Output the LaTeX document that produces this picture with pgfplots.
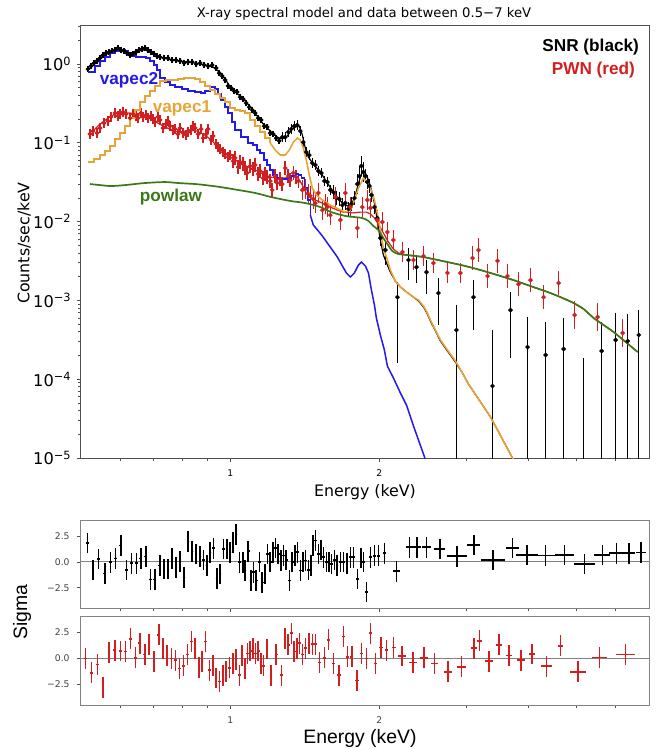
\documentclass[border=0pt]{standalone}
\usepackage{fontspec}
\setmainfont{DejaVu Sans}
\newfontfamily\lib{Liberation Sans}
\usepackage{pgfplots}
\usepackage{pgfplotstable}
\pgfplotsset{compat=1.18}
\definecolor{cblue}{RGB}{35,25,235}
\definecolor{corange}{RGB}{232,165,55}
\definecolor{cgreen}{RGB}{60,120,25}
\definecolor{cred}{RGB}{210,30,30}
\definecolor{cframe}{RGB}{80,80,80}
\definecolor{cgrid}{RGB}{130,130,130}

% ---------- models ----------
\pgfplotstableread{
E V
0.5165 0.792
0.5337 0.943
0.5462 1.092
0.5591 1.227
0.5722 1.379
0.5856 1.462
0.5994 1.505
0.6135 1.462
0.6220 1.301
0.6339 1.263
0.6456 1.227
0.6609 1.227
0.6764 1.191
0.6891 1.092
0.7020 0.971
0.7118 0.839
0.7219 0.664
0.7389 0.591
0.7563 0.542
0.7741 0.511
0.8000 0.482
0.8226 0.454
0.8500 0.441
0.8738 0.429
0.8902 0.454
0.9112 0.511
0.9326 0.482
0.9458 0.416
0.9590 0.349
0.9770 0.285
0.9907 0.239
1.0093 0.184
1.0235 0.145
1.0525 0.118
1.0874 0.0994
1.1130 0.0938
1.1337 0.0810
1.1497 0.0743
1.1713 0.0605
1.1878 0.0523
1.2045 0.0452
1.2214 0.0390
1.2444 0.0357
1.2618 0.0347
1.2856 0.0347
1.3037 0.0357
1.3281 0.0379
1.3531 0.0402
1.3723 0.0390
1.3916 0.0357
1.4111 0.0267
1.4311 0.0188
1.4510 0.0121
}\vapectwolow

\pgfplotstableread{
E V
1.4510 0.0121
1.4715 0.00906
1.5062 0.00760
1.5346 0.00657
1.5707 0.00535
1.6077 0.00436
1.6455 0.00355
1.6843 0.00273
1.7159 0.00223
1.7480 0.00198
1.7810 0.00223
1.8146 0.00281
1.8400 0.00307
1.8745 0.00273
1.9010 0.00223
1.9275 0.00136
1.9547 0.000874
1.9724 0.000598
2.0091 0.000364
2.0470 0.000235
2.0756 0.000147
2.1344 0.000104
2.2054 0.0000668
2.2680 0.0000471
2.3434 0.0000255
2.3985 0.0000169
2.4666 0.0000103
2.5120 0.0000068
}\vapectwohigh

\pgfplotstableread{
E V
0.5165 0.0571
0.5312 0.0623
0.5462 0.0700
0.5591 0.0787
0.5722 0.0911
0.5856 0.1117
0.5994 0.133
0.6135 0.163
0.6279 0.206
0.6426 0.261
0.6578 0.330
0.6733 0.393
0.6891 0.454
0.7053 0.526
0.7219 0.608
0.7424 0.627
0.7634 0.627
0.7849 0.645
0.8073 0.664
0.8303 0.664
0.8500 0.645
0.8700 0.591
0.8902 0.526
0.9112 0.468
0.9326 0.416
0.9546 0.370
0.9770 0.330
1.0 0.276
1.0235 0.261
1.0476 0.253
1.0723 0.239
1.0975 0.195
1.1233 0.163
1.1497 0.137
1.1768 0.115
1.2045 0.0994
}\vapeconelow

\pgfplotstableread{
E V
1.2045 0.0994
1.2328 0.0810
1.2618 0.0700
1.2916 0.0700
1.3159 0.0810
1.3407 0.102
1.3659 0.115
1.3851 0.109
1.4046 0.0859
1.4243 0.0605
1.4443 0.0390
1.4646 0.0267
1.4920 0.0218
1.5346 0.0188
1.5926 0.0162
1.6532 0.0145
1.7078 0.0132
1.7480 0.0140
1.7810 0.0188
1.8146 0.0267
1.8573 0.0357
1.8919 0.0318
1.9186 0.0267
1.9547 0.0188
1.9815 0.0129
2.0091 0.00782
2.0375 0.00462
2.0756 0.00326
2.1046 0.00243
2.1544 0.00176
2.2054 0.00148
2.2680 0.00128
2.3434 0.00110
2.3985 0.00101
2.4552 0.000849
2.5003 0.000692
2.5351 0.000564
2.5950 0.000421
2.6560 0.000314
2.7442 0.000235
2.8478 0.000170
2.9418 0.000120
3.0250 0.0000869
3.1118 0.0000668
3.2292 0.0000471
3.3516 0.0000331
3.4624 0.0000227
3.5768 0.0000155
3.7125 0.0000100
3.8171 0.0000075
}\vapeconehigh

\pgfplotstableread{
E V
0.5165 0.839
0.5337 1.030
0.5462 1.191
0.5591 1.301
0.5722 1.420
0.5856 1.505
0.5994 1.505
0.6135 1.462
0.6279 1.379
0.6426 1.420
0.6578 1.505
0.6733 1.505
0.6891 1.462
0.7053 1.339
0.7219 1.227
0.7492 1.157
0.7849 1.092
0.8226 1.060
0.8500 1.030
0.8902 0.971
0.9240 0.916
0.9458 0.815
0.9770 0.645
1.0 0.511
1.0235 0.441
1.0476 0.393
1.0723 0.339
1.0975 0.285
1.1337 0.219
1.1659 0.173
1.2045 0.141
1.2444 0.118
1.2737 0.112
1.3037 0.122
1.3281 0.145
1.3531 0.159
1.3787 0.163
1.3981 0.126
1.4177 0.0859
1.4377 0.0660
1.4715 0.0538
1.5202 0.0426
1.5707 0.0309
1.6301 0.0218
1.6843 0.0172
1.7238 0.0158
1.7561 0.0162
1.7892 0.0218
1.8230 0.0337
1.8480 0.0426
1.8745 0.0414
1.9010 0.0337
1.9275 0.0252
1.9547 0.0172
1.9815 0.0105
2.0091 0.00584
2.0375 0.00377
2.0756 0.00281
2.1046 0.00229
2.1544 0.00176
2.2054 0.00148
2.2680 0.00128
2.3434 0.00110
2.3985 0.000983
2.4552 0.000825
2.5003 0.000672
2.5351 0.000548
2.5950 0.000409
2.6560 0.000305
2.7442 0.000228
2.8478 0.000165
2.9418 0.000120
3.0250 0.0000869
3.1118 0.0000668
3.2292 0.0000471
3.3516 0.0000331
3.4624 0.0000227
3.5768 0.0000155
3.7125 0.0000100
3.8171 0.0000075
}\snrmodel

\pgfplotstableread{
E V
0.5214 0.0300
0.5462 0.0291
0.5749 0.0283
0.6135 0.0291
0.6733 0.0309
0.7389 0.0318
0.7849 0.0309
0.8500 0.0300
0.8902 0.0291
0.9546 0.0275
1.0380 0.0252
1.1233 0.0231
1.2101 0.0205
1.3220 0.0183
1.4177 0.0172
1.5202 0.0153
1.5999 0.0132
1.7078 0.0118
1.7892 0.0114
1.8480 0.0111
1.9010 0.0102
1.9457 0.00879
1.9907 0.00782
2.0375 0.00619
2.0756 0.00520
2.1245 0.00423
2.1851 0.00388
2.2786 0.00377
2.4552 0.00355
2.7442 0.00307
2.9833 0.00273
3.1993 0.00243
3.5123 0.00204
3.7297 0.00181
4.0371 0.00152
4.3694 0.00128
4.6416 0.00110
4.9307 0.000927
5.1654 0.000778
5.4117 0.000598
5.6693 0.000487
5.9384 0.000397
6.2790 0.000297
6.6424 0.000221
}\powlaw

\pgfplotstableread{
E V
0.5165 0.129
0.5337 0.150
0.5462 0.173
0.5669 0.206
0.5856 0.232
0.6050 0.239
0.6279 0.239
0.6578 0.225
0.6891 0.206
0.7151 0.178
0.7389 0.159
0.7634 0.145
0.7849 0.137
0.8111 0.141
0.8340 0.145
0.8577 0.141
0.8738 0.133
0.8944 0.122
0.9155 0.109
0.9369 0.0938
0.9590 0.0810
0.9907 0.0680
1.0235 0.0605
1.0573 0.0538
1.0874 0.0493
1.1233 0.0452
1.1659 0.0402
1.2045 0.0368
1.2444 0.0357
1.2856 0.0357
1.3220 0.0368
1.3468 0.0379
1.3723 0.0357
1.3981 0.0291
1.4243 0.0231
1.4577 0.0199
1.4992 0.0183
1.5489 0.0167
1.5926 0.0153
1.6455 0.0140
1.6921 0.0132
1.7728 0.0129
1.8314 0.0132
1.8829 0.0132
1.9186 0.0125
1.9547 0.0111
1.9907 0.00932
2.0375 0.00717
2.0853 0.00551
2.1344 0.00449
2.1851 0.00400
2.2576 0.00377
2.4552 0.00355
2.7442 0.00307
2.9833 0.00273
3.1993 0.00243
3.5123 0.00204
3.7297 0.00181
4.0371 0.00152
4.3694 0.00128
4.6416 0.00110
4.9307 0.000927
5.1654 0.000778
5.4117 0.000598
5.6693 0.000487
5.9384 0.000397
6.2790 0.000297
6.6424 0.000221
}\pwnmodel

% ---------- data (relative errors up / down) ----------
\pgfplotstableread{
E V up dn
0.5165 0.864 0.09 0.08
0.5239 0.943 0.09 0.08
0.5312 1.030 0.09 0.08
0.5387 1.092 0.09 0.08
0.5462 1.191 0.09 0.08
0.5538 1.301 0.09 0.08
0.5617 1.379 0.09 0.08
0.5695 1.420 0.09 0.08
0.5775 1.462 0.09 0.08
0.5856 1.505 0.09 0.08
0.5937 1.596 0.09 0.08
0.6022 1.505 0.09 0.08
0.6107 1.462 0.09 0.08
0.6192 1.379 0.09 0.08
0.6279 1.301 0.09 0.08
0.6366 1.339 0.09 0.08
0.6456 1.420 0.09 0.08
0.6547 1.505 0.09 0.08
0.6639 1.550 0.09 0.08
0.6733 1.596 0.09 0.08
0.6826 1.505 0.09 0.08
0.6923 1.420 0.09 0.08
0.7020 1.339 0.09 0.08
0.7118 1.263 0.09 0.08
0.7219 1.227 0.09 0.08
0.7355 1.191 0.09 0.08
0.7492 1.191 0.09 0.08
0.7634 1.124 0.09 0.08
0.7777 1.124 0.09 0.08
0.7924 1.092 0.09 0.08
0.8073 1.030 0.09 0.08
0.8226 1.060 0.09 0.08
0.8381 1.060 0.09 0.08
0.8540 1.000 0.09 0.08
0.8700 1.030 0.09 0.08
0.8861 0.971 0.09 0.08
0.9027 0.943 0.09 0.08
0.9197 0.971 0.09 0.08
0.9369 0.890 0.09 0.08
0.9502 0.769 0.09 0.08
0.9635 0.704 0.09 0.08
0.9770 0.627 0.09 0.08
0.9907 0.526 0.09 0.08
1.0047 0.496 0.09 0.08
1.0188 0.454 0.09 0.08
1.0331 0.441 0.09 0.08
1.0476 0.381 0.09 0.08
1.0624 0.359 0.09 0.08
1.0773 0.320 0.09 0.08
1.0924 0.285 0.09 0.08
1.1078 0.261 0.09 0.08
1.1233 0.239 0.09 0.08
1.1391 0.206 0.09 0.08
1.1551 0.195 0.09 0.08
1.1713 0.163 0.09 0.08
1.1878 0.159 0.09 0.08
1.2045 0.133 0.09 0.08
1.2214 0.129 0.09 0.08
1.2385 0.115 0.09 0.08
1.2559 0.106 0.09 0.08
1.2737 0.118 0.157 0.136
1.2916 0.118 0.157 0.136
1.3098 0.137 0.157 0.136
1.3281 0.150 0.157 0.136
1.3468 0.163 0.157 0.136
1.3659 0.168 0.157 0.136
1.3851 0.141 0.157 0.136
1.4046 0.102 0.157 0.136
1.4243 0.0764 0.157 0.136
1.4443 0.0700 0.157 0.136
1.4646 0.0554 0.157 0.136
1.4852 0.0523 0.157 0.136
1.5062 0.0439 0.157 0.136
1.5273 0.0414 0.157 0.136
1.5489 0.0327 0.157 0.136
1.5707 0.0318 0.157 0.136
1.5926 0.0252 0.157 0.136
1.6151 0.0237 0.227 0.185
1.6377 0.0199 0.227 0.185
1.6608 0.0194 0.227 0.185
1.6843 0.0162 0.227 0.185
1.7078 0.0172 0.227 0.185
1.7320 0.0145 0.227 0.185
1.7561 0.0167 0.227 0.185
1.7810 0.0199 0.227 0.185
1.8059 0.0300 0.339 0.253
1.8230 0.0379 0.339 0.253
1.8400 0.0508 0.339 0.253
1.8573 0.0426 0.339 0.253
1.8745 0.0379 0.227 0.185
1.8919 0.0318 0.227 0.185
1.9097 0.0283 0.227 0.185
1.9275 0.0218 0.227 0.185
1.9547 0.0153 0.227 0.185
1.9815 0.0111 0.227 0.185
2.0091 0.00619 0.263 0.208
2.0563 0.00436 0.263 0.355
2.1746 0.00110 0.55 0.855
2.2895 0.00326 0.42 0.442
2.3765 0.00265 0.42 0.373
2.4894 0.00229 0.42 0.474
2.6315 0.00124 0.55 0.607
2.8612 0.000421 1.075 0.99
3.0974 0.00110 0.643 0.619
3.3830 0.0000820 4.14 0.99
3.6781 0.000755 0.692 0.754
3.9811 0.000256 1.40 0.99
4.3291 0.000203 1.62 0.99
4.7068 0.000242 1.47 0.99
5.166 0.00000705 25.4 0.5
5.6170 0.000228 1.33 0.99
5.9940 0.000314 1.20 0.99
6.3391 0.000305 1.20 0.99
6.6730 0.000364 1.075 0.99
}\snrdata

\pgfplotstableread{
E V up dn
0.5214 0.129 0.157 0.136
0.5287 0.141 0.157 0.136
0.5387 0.133 0.157 0.136
0.5462 0.154 0.157 0.136
0.5565 0.178 0.157 0.136
0.5669 0.189 0.157 0.136
0.5749 0.213 0.157 0.136
0.5856 0.239 0.157 0.136
0.5937 0.219 0.157 0.136
0.5994 0.232 0.157 0.136
0.6077 0.246 0.157 0.136
0.6164 0.232 0.157 0.136
0.6279 0.206 0.157 0.136
0.6366 0.232 0.157 0.136
0.6456 0.219 0.157 0.136
0.6516 0.206 0.157 0.136
0.6609 0.239 0.157 0.136
0.6670 0.213 0.157 0.136
0.6764 0.225 0.157 0.136
0.6826 0.206 0.157 0.136
0.6923 0.219 0.157 0.136
0.6987 0.200 0.157 0.136
0.7053 0.184 0.157 0.136
0.7151 0.213 0.157 0.136
0.7219 0.195 0.157 0.136
0.7319 0.154 0.157 0.136
0.7423 0.173 0.157 0.136
0.7492 0.189 0.157 0.136
0.7563 0.163 0.157 0.136
0.7668 0.145 0.157 0.136
0.7741 0.150 0.157 0.136
0.7849 0.129 0.157 0.136
0.7924 0.154 0.157 0.136
0.8036 0.133 0.157 0.136
0.8149 0.126 0.157 0.136
0.8226 0.137 0.157 0.136
0.8340 0.145 0.157 0.136
0.8420 0.163 0.157 0.136
0.8500 0.154 0.157 0.136
0.8619 0.129 0.157 0.136
0.8738 0.150 0.157 0.136
0.8822 0.115 0.157 0.136
0.8944 0.129 0.157 0.136
0.9027 0.150 0.157 0.136
0.9155 0.109 0.157 0.136
0.9240 0.122 0.157 0.136
0.9369 0.0965 0.157 0.136
0.9458 0.0885 0.157 0.136
0.9546 0.0834 0.157 0.136
0.9680 0.0764 0.157 0.136
0.9770 0.0721 0.157 0.136
0.9907 0.0660 0.157 0.136
1.0 0.0700 0.157 0.136
1.0140 0.0587 0.227 0.185
1.0235 0.0641 0.227 0.185
1.0380 0.0493 0.227 0.185
1.0476 0.0571 0.227 0.185
1.0624 0.0538 0.227 0.185
1.0723 0.0479 0.227 0.185
1.0823 0.0414 0.227 0.185
1.0975 0.0508 0.227 0.185
1.1130 0.0465 0.227 0.185
1.1233 0.0523 0.227 0.185
1.1391 0.0402 0.227 0.185
1.1497 0.0439 0.227 0.185
1.1659 0.0357 0.227 0.185
1.1768 0.0402 0.227 0.185
1.1878 0.0368 0.227 0.185
1.2045 0.0327 0.227 0.185
1.2158 0.0252 0.227 0.185
1.2328 0.0379 0.227 0.185
1.2444 0.0309 0.227 0.185
1.2618 0.0347 0.227 0.185
1.2737 0.0300 0.227 0.185
1.2916 0.0479 0.227 0.185
1.3098 0.0379 0.227 0.185
1.3220 0.0337 0.227 0.185
1.3407 0.0414 0.227 0.185
1.3594 0.0368 0.227 0.185
1.3723 0.0327 0.227 0.185
1.3981 0.0252 0.339 0.253
1.4177 0.0259 0.339 0.253
1.4377 0.0224 0.339 0.253
1.4510 0.0212 0.339 0.253
1.4715 0.0194 0.339 0.253
1.4852 0.0172 0.339 0.253
1.5062 0.0231 0.339 0.253
1.5346 0.0140 0.339 0.253
1.5560 0.0167 0.339 0.253
1.5707 0.0153 0.339 0.253
1.5926 0.0121 0.339 0.253
1.6301 0.0205 0.339 0.253
1.6685 0.0105 0.339 0.253
1.7078 0.0231 0.339 0.253
1.7480 0.0153 0.339 0.253
1.8059 0.00830 0.339 0.253
1.8480 0.0153 0.339 0.253
1.8919 0.0188 0.339 0.253
1.9186 0.0149 0.339 0.253
1.9815 0.0105 0.339 0.253
2.0279 0.00988 0.339 0.253
2.0756 0.00738 0.339 0.253
2.1344 0.00584 0.339 0.253
2.2262 0.00411 0.339 0.253
2.3434 0.00326 0.339 0.253
2.4552 0.00366 0.339 0.253
2.5710 0.00298 0.339 0.253
2.7442 0.00223 0.339 0.253
2.9145 0.00223 0.339 0.253
3.0831 0.00345 0.42 0.296
3.1697 0.00436 0.42 0.296
3.3052 0.00204 0.42 0.296
3.4624 0.00317 0.42 0.296
3.6271 0.00204 0.42 0.296
3.8171 0.00161 0.42 0.296
4.0371 0.00181 0.42 0.296
4.2890 0.00110 0.42 0.296
4.5991 0.00166 0.42 0.296
4.9537 0.000653 0.505 0.336
5.5133 0.000615 0.505 0.336
6.1917 0.000386 0.505 0.336
}\pwndata

% ---------- residuals (dx = half bin width in keV, dy = 1 sigma) ----------
\pgfplotstableread{
E r dx dy
0.5149 1.84 0.0031 1
0.5287 -0.77 0.0032 1
0.5428 0.29 0.0033 1
0.5583 -1.10 0.0033 1
0.5730 -0.03 0.0034 1
0.5875 0.35 0.0035 1
0.6013 1.58 0.0036 1
0.6172 -0.77 0.0037 1
0.6317 -0.13 0.0038 1
0.6466 -0.13 0.0039 1
0.6600 0.35 0.0040 1
0.6755 0.52 0.0041 1
0.6902 -1.70 0.0041 1
0.7044 -1.70 0.0042 1
0.7210 -0.35 0.0043 1
0.7355 -0.68 0.0044 1
0.7492 -0.68 0.0045 1
0.7634 0.35 0.0046 1
0.7777 -0.52 0.0047 1
0.7924 0.06 0.0048 1
0.8073 -1.48 0.0048 1
0.8226 2.00 0.0049 1
0.8381 1.03 0.0050 1
0.8540 0.77 0.0051 1
0.8700 0.52 0.0052 1
0.8833 0.19 0.0053 1
0.8972 -0.35 0.0054 1
0.9112 0.94 0.0055 1
0.9253 1.32 0.0056 1
0.9400 -1.58 0.0056 1
0.9546 -1.16 0.0057 1
0.9693 1.26 0.0058 1
0.9847 1.26 0.0059 1
1.0000 0.94 0.0060 1
1.0126 1.90 0.0061 1
1.0283 2.65 0.0062 1
1.0442 -0.03 0.0063 1
1.0609 -0.03 0.0064 1
1.0708 -0.84 0.0064 1
1.0874 1.03 0.0065 1
1.1010 -1.80 0.0066 1
1.1145 -1.00 0.0067 1
1.1286 -1.80 0.0068 1
1.1460 0.00 0.0069 1
1.1604 -1.97 0.0070 1
1.1751 -1.16 0.0071 1
1.1895 0.77 0.0071 1
1.2045 0.00 0.0072 1
1.2197 0.94 0.0073 1
1.2345 1.35 0.0074 1
1.2502 0.77 0.0075 1
1.2659 0.13 0.0076 1
1.2815 0.61 0.0077 1
1.2976 0.19 0.0078 1
1.3177 -1.80 0.0079 1
1.3344 0.00 0.0080 1
1.3512 0.61 0.0081 1
1.3677 0.94 0.0082 1
1.3851 -0.84 0.0083 1
1.4026 0.00 0.0084 1
1.4195 0.13 0.0085 1
1.4377 -0.77 0.0086 1
1.4555 -0.35 0.0087 1
1.4693 1.58 0.0088 1
1.4870 2.06 0.0089 1
1.5062 0.77 0.0090 1
1.5252 1.16 0.0092 1
1.5439 0.45 0.0093 1
1.5632 0.00 0.0094 1
1.5830 0.00 0.0095 1
1.6021 -0.19 0.0096 1
1.6226 0.19 0.0097 1
1.6432 -0.35 0.0099 1
1.6685 0.00 0.0100 1
1.6943 0.00 0.0102 1
1.7213 -0.13 0.0103 1
1.7480 0.45 0.0105 1
1.7749 0.45 0.0106 1
1.8083 -1.65 0.0108 1
1.8369 0.39 0.0110 1
1.8594 0.00 0.0112 1
1.8829 -2.90 0.0113 1
1.9186 0.45 0.0134 1
1.9547 0.60 0.0137 1
1.9935 0.60 0.0140 1
2.0470 0.84 0.0164 1
2.1645 -0.90 0.0346 1
2.3025 1.42 0.0414 1
2.3835 1.42 0.0429 1
2.4894 1.42 0.0498 1
2.6475 1.26 0.0662 1
2.8708 0.55 0.1321 1
3.1012 1.65 0.0930 1
3.3939 0.19 0.1867 1
3.7125 1.35 0.1114 1
3.9756 0.68 0.1988 1
4.3291 0.61 0.2381 1
4.7287 0.68 0.2128 1
5.1903 -0.19 0.2595 1
5.6354 0.68 0.2085 1
6.0220 0.84 0.1987 1
6.3772 0.84 0.1786 1
6.7355 0.90 0.1549 1
}\snrres

\pgfplotstableread{
E r dx dy
0.5101 0.00 0.0031 1
0.5246 -1.39 0.0031 1
0.5394 -0.58 0.0032 1
0.5538 -2.80 0.0033 1
0.5695 0.55 0.0034 1
0.5848 0.80 0.0035 1
0.6003 0.71 0.0036 1
0.6144 0.65 0.0037 1
0.6288 1.87 0.0038 1
0.6436 0.06 0.0039 1
0.6569 1.45 0.0039 1
0.6724 0.39 0.0040 1
0.6860 1.35 0.0041 1
0.7020 -0.32 0.0042 1
0.7177 2.26 0.0043 1
0.7319 0.97 0.0044 1
0.7458 0.32 0.0045 1
0.7608 0.00 0.0046 1
0.7751 -0.16 0.0047 1
0.7898 -0.97 0.0047 1
0.8047 -0.71 0.0048 1
0.8199 0.39 0.0049 1
0.8353 1.61 0.0050 1
0.8488 0.97 0.0051 1
0.8647 -0.90 0.0052 1
0.8779 -0.32 0.0053 1
0.8915 1.61 0.0053 1
0.9082 -1.13 0.0054 1
0.9227 -0.65 0.0055 1
0.9369 -1.87 0.0056 1
0.9515 -2.19 0.0057 1
0.9667 -1.61 0.0058 1
0.9815 -1.23 0.0059 1
0.9968 -0.90 0.0060 1
1.0126 -0.48 0.0061 1
1.0283 -0.06 0.0062 1
1.0442 -1.61 0.0063 1
1.0573 0.26 0.0063 1
1.0708 -0.97 0.0064 1
1.0838 0.48 0.0065 1
1.0975 0.71 0.0066 1
1.1113 0.97 0.0067 1
1.1248 0.48 0.0067 1
1.1391 0.71 0.0068 1
1.1534 -0.48 0.0069 1
1.1675 -0.71 0.0070 1
1.1861 0.90 0.0071 1
1.2084 -1.61 0.0073 1
1.2385 0.39 0.0074 1
1.2694 -1.61 0.0076 1
1.2897 1.94 0.0077 1
1.3098 1.29 0.0079 1
1.3300 2.42 0.0080 1
1.3468 0.65 0.0081 1
1.3638 0.97 0.0082 1
1.3805 1.45 0.0083 1
1.3981 0.39 0.0084 1
1.4195 0.97 0.0085 1
1.4423 1.45 0.0087 1
1.4646 1.35 0.0088 1
1.4870 1.35 0.0089 1
1.5153 -0.39 0.0121 1
1.5489 0.06 0.0124 1
1.5779 1.77 0.0126 1
1.6151 -0.48 0.0129 1
1.6584 -1.61 0.0133 1
1.6943 2.10 0.0136 1
1.7258 0.16 0.0138 1
1.7589 0.16 0.0141 1
1.8030 -2.10 0.0144 1
1.8424 0.48 0.0147 1
1.8829 0.00 0.0151 1
1.9186 2.42 0.0153 1
1.9638 -0.48 0.0157 1
2.0156 1.03 0.0161 1
2.0663 0.80 0.0165 1
2.1373 1.03 0.0214 1
2.2232 0.23 0.0445 1
2.3391 -0.39 0.0468 1
2.4586 0.06 0.0443 1
2.5830 -0.48 0.0465 1
2.7530 -1.29 0.0551 1
2.9281 -0.81 0.0644 1
3.1012 0.97 0.0465 1
3.1844 1.68 0.0382 1
3.3250 -0.26 0.0599 1
3.4834 1.29 0.0523 1
3.6500 0.26 0.0548 1
3.8666 -0.16 0.0696 1
4.0692 0.42 0.0610 1
4.3493 -0.74 0.1044 1
4.6416 1.19 0.0557 1
5.0301 -1.29 0.1811 1
5.5652 0.10 0.1837 1
6.2790 0.39 0.2826 1
}\pwnres

\begin{document}
\begin{tikzpicture}
\useasboundingbox (0,0) rectangle (328.5pt,-374.5pt);

% ===== top panel =====
\begin{axis}[
  at={(40.5pt,-229pt)}, anchor=south west,
  scale only axis, width=284pt, height=216.5pt,
  xmode=log, ymode=log,
  xmin=0.5, xmax=7, ymin=1e-5, ymax=3.13,
  axis line style={cframe, line width=0.5pt},
  tick align=outside, xtick pos=left, ytick pos=left,
  tick style={cframe, line width=0.4pt},
  major tick length=2.2pt, minor tick length=1.3pt,
  xtick={1,2}, xticklabels={1,2},
  minor xtick={0.6,0.7,0.8,0.9,3,4,5,6},
  xticklabel style={font=\fontsize{4.6}{5}\selectfont},
  ytick={1e-5,1e-4,1e-3,1e-2,1e-1,1},
  yticklabels={10\textsuperscript{−5},10\textsuperscript{−4},10\textsuperscript{−3},10\textsuperscript{−2},10\textsuperscript{−1},10\textsuperscript{0}},
  minor ytick={2e-5,3e-5,4e-5,5e-5,6e-5,7e-5,8e-5,9e-5,2e-4,3e-4,4e-4,5e-4,6e-4,7e-4,8e-4,9e-4,2e-3,3e-3,4e-3,5e-3,6e-3,7e-3,8e-3,9e-3,2e-2,3e-2,4e-2,5e-2,6e-2,7e-2,8e-2,9e-2,0.2,0.3,0.4,0.5,0.6,0.7,0.8,0.9,2,3},
  yticklabel style={font=\fontsize{8.1}{8.5}\selectfont, xshift=1pt},
  clip=true,
]
% black data
\addplot[only marks, mark=*, mark size=0.95pt, black,
  error bars/.cd, y dir=both, y explicit relative, error mark=none,
  error bar style={line width=0.75pt, black}]
  table[x=E, y=V, y error plus=up, y error minus=dn] {\snrdata};
\addplot[black, line width=0.6pt] table[x=E, y=V] {\snrmodel};
% red data
\addplot[only marks, mark=*, mark size=0.95pt, cred,
  error bars/.cd, y dir=both, y explicit relative, error mark=none,
  error bar style={line width=0.8pt, cred}]
  table[x=E, y=V, y error plus=up, y error minus=dn] {\pwndata};
\addplot[cred, line width=0.6pt] table[x=E, y=V] {\pwnmodel};
% components
\addplot[cblue, line width=0.75pt, const plot] table[x=E, y=V] {\vapectwolow};
\addplot[cblue, line width=0.75pt] table[x=E, y=V] {\vapectwohigh};
\addplot[corange, line width=0.8pt, const plot] table[x=E, y=V] {\vapeconelow};
\addplot[corange, line width=0.8pt] table[x=E, y=V] {\vapeconehigh};
\addplot[cgreen, line width=0.85pt, smooth] table[x=E, y=V] {\powlaw};
\end{axis}

% ===== residual panel SNR =====
\begin{axis}[
  at={(40.5pt,-304pt)}, anchor=south west,
  scale only axis, width=284pt, height=44pt,
  xmode=log, xmin=0.5, xmax=7,
  ymin=-4.45, ymax=4.05,
  axis line style={cgrid, line width=0.5pt},
  tick align=outside, xtick pos=left, ytick pos=left,
  tick style={cframe, line width=0.4pt},
  major tick length=2.2pt, minor tick length=1.6pt,
  xtick={1,2}, xticklabels={},
  minor xtick={0.6,0.7,0.8,0.9,3,4,5,6},
  ytick={-2.5,0,2.5}, yticklabels={−2.5,0.0,2.5},
  yticklabel style={font=\fontsize{4.6}{5}\selectfont, text=black!75},
  clip=true,
]
\addplot[cgrid, line width=0.5pt] coordinates {(0.5,0) (7,0)};
\addplot[only marks, mark=*, mark size=0.3pt, black,
  error bars/.cd, x dir=both, x explicit, y dir=both, y explicit,
  error mark=none, error bar style={line width=0.8pt, black}]
  table[x=E, y=r, x error=dx, y error=dy] {\snrres};
\end{axis}

% ===== residual panel PWN =====
\begin{axis}[
  at={(40.5pt,-352.5pt)}, anchor=south west,
  scale only axis, width=284pt, height=44.5pt,
  xmode=log, xmin=0.5, xmax=7,
  ymin=-4.45, ymax=4.05,
  axis line style={cgrid, line width=0.5pt},
  tick align=outside, xtick pos=left, ytick pos=left,
  tick style={cframe, line width=0.4pt},
  major tick length=2.2pt, minor tick length=1.6pt,
  xtick={1,2}, xticklabels={1,2},
  minor xtick={0.6,0.7,0.8,0.9,3,4,5,6},
  ytick={-2.5,0,2.5}, yticklabels={−2.5,0.0,2.5},
  yticklabel style={font=\fontsize{4.6}{5}\selectfont, text=black!75},
  xticklabel style={font=\fontsize{4.6}{5}\selectfont, text=black!75},
  clip=true,
]
\addplot[cgrid, line width=0.5pt] coordinates {(0.5,0) (7,0)};
\addplot[only marks, mark=*, mark size=0.3pt, cred,
  error bars/.cd, x dir=both, x explicit, y dir=both, y explicit,
  error mark=none, error bar style={line width=0.8pt, cred}]
  table[x=E, y=r, x error=dx, y error=dy] {\pwnres};
\end{axis}

% ===== texts =====
\node[font=\fontsize{6.6}{7.5}\selectfont] at (182pt,-7pt) {X-ray spectral model and data between 0.5−7 keV};
\node[anchor=east, font=\lib\bfseries\fontsize{8.6}{9}\selectfont] at (323pt,-23.5pt) {SNR (black)};
\node[anchor=east, font=\lib\bfseries\fontsize{8.6}{9}\selectfont, text=cred] at (321pt,-35pt) {PWN (red)};
\node[font=\lib\bfseries\fontsize{8.6}{9}\selectfont, text=cblue] at (64.5pt,-40pt) {vapec2};
\node[font=\lib\bfseries\fontsize{8.6}{9}\selectfont, text=corange] at (91pt,-54pt) {vapec1};
\node[font=\lib\bfseries\fontsize{8.6}{9}\selectfont, text=cgreen] at (85.5pt,-98.5pt) {powlaw};
\node[rotate=90, font=\fontsize{7.9}{8}\selectfont] at (12pt,-121.5pt) {Counts/sec/keV};
\node[font=\fontsize{7.9}{8}\selectfont] at (182.5pt,-246pt) {Energy (keV)};
\node[rotate=90, font=\lib\fontsize{9.7}{10}\selectfont] at (11pt,-306pt) {Sigma};
\node[font=\lib\fontsize{9.7}{10}\selectfont] at (180pt,-369pt) {Energy (keV)};
\end{tikzpicture}
\end{document}
